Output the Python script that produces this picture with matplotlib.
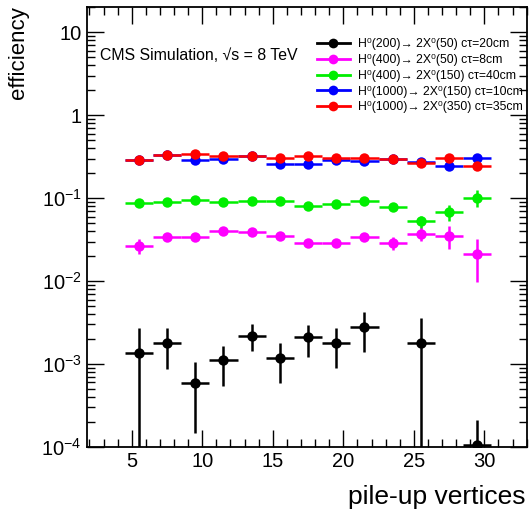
import matplotlib
matplotlib.use("Agg")
import matplotlib.pyplot as plt
import numpy as np
from matplotlib.ticker import FuncFormatter, LogLocator, MultipleLocator
from matplotlib.lines import Line2D

plt.rcParams['font.family'] = ['Liberation Sans', 'DejaVu Sans']
plt.rcParams['mathtext.fontset'] = 'custom'
plt.rcParams['mathtext.rm'] = 'Liberation Sans'
plt.rcParams['mathtext.it'] = 'Liberation Sans:italic'
plt.rcParams['mathtext.sf'] = 'Liberation Sans'

# bin centres (pile-up vertices), bin half width = 1
x = [5.5, 7.5, 9.5, 11.5, 13.5, 15.5, 17.5, 19.5, 21.5, 23.5, 25.5, 27.5, 29.5]
xerr = [1.0] * 13

labels = ["H⁰(200)→ 2X⁰(50) cτ=20cm",
          "H⁰(400)→ 2X⁰(50) cτ=8cm",
          "H⁰(400)→ 2X⁰(150) cτ=40cm",
          "H⁰(1000)→ 2X⁰(150) cτ=10cm",
          "H⁰(1000)→ 2X⁰(350) cτ=35cm"]
colors = ["black", "#ff00ff", "#00ee00", "#0000ff", "#ff0000"]

# black: H(200)->2X(50); None = empty bin
black_y  = [1.37e-3, 1.81e-3, 5.96e-4, 1.11e-3, 2.19e-3, 1.17e-3, 2.10e-3, 1.81e-3, 2.81e-3, None, 1.81e-3, None, 1.06e-4]
black_hi = [2.74e-3, 2.74e-3, 1.05e-3, 1.66e-3, 3.00e-3, 1.78e-3, 2.98e-3, 2.74e-3, 4.27e-3, None, 3.55e-3, None, 2.12e-4]
black_lo = [0.0,     8.77e-4, 1.49e-4, 5.43e-4, 1.43e-3, 5.85e-4, 1.21e-3, 8.95e-4, 1.40e-3, None, 0.0,     None, 0.0]

magenta_y  = [0.0266, 0.0339, 0.0342, 0.0404, 0.0389, 0.0348, 0.0292, 0.0292, 0.0342, 0.0287, 0.0375, 0.0352, 0.0210]
magenta_hi = [0.0321, 0.0370, 0.0372, 0.0436, 0.0418, 0.0376, 0.0318, 0.0322, 0.0372, 0.0336, 0.0452, 0.0460, 0.0321]
magenta_lo = [0.0210, 0.0310, 0.0314, 0.0374, 0.0360, 0.0320, 0.0268, 0.0264, 0.0312, 0.0236, 0.0303, 0.0241, 0.00982]

green_y  = [0.0863, 0.0903, 0.0955, 0.0903, 0.0920, 0.0929, 0.0794, 0.0839, 0.0929, 0.0780, 0.0524, 0.0673, 0.1010]
green_hi = [0.0890, 0.0930, 0.0985, 0.0930, 0.0948, 0.0958, 0.0820, 0.0868, 0.0960, 0.0810, 0.0612, 0.0824, 0.1250]
green_lo = [0.0836, 0.0876, 0.0925, 0.0876, 0.0892, 0.0900, 0.0768, 0.0810, 0.0898, 0.0750, 0.0439, 0.0533, 0.0785]

blue_y  = [0.292, 0.330, 0.292, 0.295, 0.325, 0.259, 0.256, 0.292, 0.279, 0.295, 0.270, 0.243, 0.306]
red_y   = [0.292, 0.330, 0.345, 0.321, 0.318, 0.306, 0.321, 0.301, 0.301, 0.295, 0.269, 0.309, 0.245]
red_hi  = [0.300, 0.340, 0.356, 0.331, 0.328, 0.316, 0.331, 0.311, 0.311, 0.306, 0.282, 0.322, 0.268]
red_lo  = [0.284, 0.320, 0.334, 0.311, 0.308, 0.296, 0.311, 0.291, 0.291, 0.284, 0.256, 0.296, 0.224]

fig = plt.figure(figsize=(5.31, 5.11), dpi=100)
ax = fig.add_axes([0.1644, 0.1252, 0.8275, 0.8605])
ax.set_yscale('log')

def draw(xs, ys, hi, lo, color):
    xx, yy, el, eh = [], [], [], []
    for xv, yv, h, l in zip(xs, ys, hi, lo):
        if yv is None:
            continue
        xx.append(xv); yy.append(yv)
        eh.append(h - yv)
        el.append(yv - l if l > 0 else yv * 0.99999)
    ax.errorbar(xx, yy, xerr=[1.0] * len(xx), yerr=[el, eh], fmt='o', color=color,
                ms=7.5, elinewidth=1.8, capsize=2.2, capthick=1.8,
                markeredgewidth=0, zorder=3)

blue_hi = [v * 1.035 for v in blue_y]
blue_lo = [v / 1.035 for v in blue_y]

draw(x, black_y, black_hi, black_lo, colors[0])
draw(x, magenta_y, magenta_hi, magenta_lo, colors[1])
draw(x, green_y, green_hi, green_lo, colors[2])
draw(x, blue_y, blue_hi, blue_lo, colors[3])
draw(x, red_y, red_hi, red_lo, colors[4])

ax.set_xlim(1.85, 33.0)
ax.set_ylim(1e-4, 20)

ax.xaxis.set_major_locator(MultipleLocator(5))
ax.xaxis.set_minor_locator(MultipleLocator(1))
ax.yaxis.set_major_locator(LogLocator(base=10, numticks=20))
ax.yaxis.set_minor_locator(LogLocator(base=10, subs=np.arange(2, 10), numticks=20))

def yfmt(v, pos):
    e = int(round(np.log10(v)))
    if e == 0:
        return "1"
    if e == 1:
        return "10"
    return r"$10^{%d}$" % e
ax.yaxis.set_major_formatter(FuncFormatter(yfmt))

ax.tick_params(which='both', direction='in', top=True, right=True, width=1.0)
ax.tick_params(which='major', length=12, labelsize=14.5)
ax.tick_params(which='minor', length=6)
ax.tick_params(axis='y', which='major', pad=4)
for s in ax.spines.values():
    s.set_linewidth(1.3)

fig.text(0.035, 0.988, "efficiency", rotation=90, ha='center', va='top', fontsize=16)
fig.text(0.99, 0.004, "pile-up vertices", ha='right', va='bottom', fontsize=19)

ax.text(0.03, 0.891, "CMS Simulation, √s = 8 TeV", transform=ax.transAxes,
        fontsize=11.4, ha='left', va='center')

handles = [Line2D([0], [0], color=c, lw=2.0, marker='o', ms=7, markeredgewidth=0) for c in colors]
leg = ax.legend(handles, labels, loc='upper right', bbox_to_anchor=(1.012, 0.949), frameon=False,
                fontsize=8.8, handlelength=2.7, handletextpad=0.7, labelspacing=0.31,
                borderaxespad=0.3)

fig.savefig("out.png", dpi=100)
